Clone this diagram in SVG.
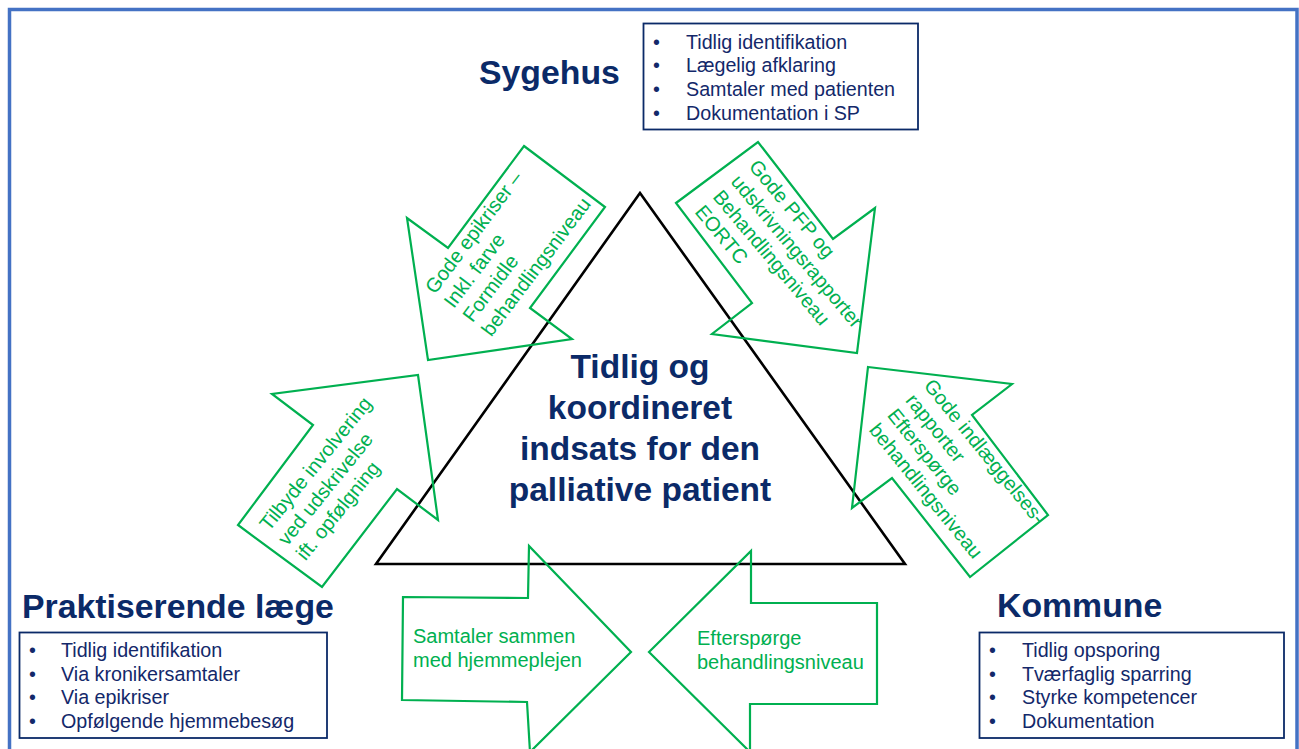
<svg xmlns="http://www.w3.org/2000/svg" width="1299" height="749" viewBox="0 0 1299 749">
<style>
.title{font-family:"Liberation Sans",Arial,sans-serif;font-weight:bold;font-size:33.8px;fill:#0B2A68}
.center{font-family:"Liberation Sans",Arial,sans-serif;font-weight:bold;font-size:33.5px;fill:#0B2A68}
.item{font-family:"Liberation Sans",Arial,sans-serif;font-size:19.7px;fill:#13286A}
.box{fill:#fff;stroke:#0B2A68;stroke-width:1.8}
.arrow{fill:none;stroke:#00B050;stroke-width:2.2;stroke-linejoin:miter}
.lbl{font-family:"Liberation Sans",Arial,sans-serif;font-size:20px;fill:#00B050}
</style>
<rect x="0" y="0" width="1299" height="749" fill="#fff"/>
<rect x="9.5" y="9.5" width="1287.5" height="800" fill="none" stroke="#4472C4" stroke-width="3.5"/>

<g id="triangle">
<polygon points="640,193 905,564 376,564" fill="none" stroke="#000" stroke-width="2.6"/>
<text class="center" text-anchor="middle"><tspan x="640" y="378">Tidlig og</tspan><tspan x="640" y="419">koordineret</tspan><tspan x="640" y="460">indsats for den</tspan><tspan x="640" y="501">palliative patient</tspan></text>
</g>

<g id="sygehus">
<text class="title" x="479" y="84">Sygehus</text>
<rect class="box" x="643.5" y="23.5" width="274.5" height="106"/>
<text class="item"><tspan x="653" y="48.5">•</tspan><tspan x="686" y="48.5">Tidlig identifikation</tspan><tspan x="653" y="72.2">•</tspan><tspan x="686" y="72.2">Lægelig afklaring</tspan><tspan x="653" y="95.8">•</tspan><tspan x="686" y="95.8">Samtaler med patienten</tspan><tspan x="653" y="119.5">•</tspan><tspan x="686" y="119.5">Dokumentation i SP</tspan></text>
</g>

<g id="praktiserende">
<text class="title" x="22" y="618">Praktiserende læge</text>
<rect class="box" x="19.5" y="632.5" width="307.5" height="105.5"/>
<text class="item"><tspan x="29" y="657">•</tspan><tspan x="61" y="657">Tidlig identifikation</tspan><tspan x="29" y="680.5">•</tspan><tspan x="61" y="680.5">Via kronikersamtaler</tspan><tspan x="29" y="704">•</tspan><tspan x="61" y="704">Via epikriser</tspan><tspan x="29" y="727.5">•</tspan><tspan x="61" y="727.5">Opfølgende hjemmebesøg</tspan></text>
</g>

<g id="kommune">
<text class="title" x="997" y="617">Kommune</text>
<rect class="box" x="979.5" y="632.5" width="304.5" height="105.5"/>
<text class="item"><tspan x="989" y="657">•</tspan><tspan x="1022" y="657">Tidlig opsporing</tspan><tspan x="989" y="680.5">•</tspan><tspan x="1022" y="680.5">Tværfaglig sparring</tspan><tspan x="989" y="704">•</tspan><tspan x="1022" y="704">Styrke kompetencer</tspan><tspan x="989" y="727.5">•</tspan><tspan x="1022" y="727.5">Dokumentation</tspan></text>
</g>

<g id="connectors">
<g id="arrow-sygehus-praktiserende">
<polygon class="arrow" points="524,146 605,207 530,308 572,339 428,360 407,218 448,248"/>
<text class="lbl" transform="translate(435,295) rotate(-53)"><tspan x="0" y="0">Gode epikriser –</tspan><tspan x="0" y="23.5">Inkl. farve</tspan><tspan x="0" y="47">Formidle</tspan><tspan x="0" y="70.5">behandlingsniveau</tspan></text>
</g>
<g id="arrow-sygehus-kommune">
<polygon class="arrow" points="676,203 758,142 833,239 875,208 857,353 712,334 752,303"/>
<text class="lbl" transform="translate(748,167) rotate(50)"><tspan x="0" y="0">Gode PFP og</tspan><tspan x="0" y="23.5">udskrivningsrapporter</tspan><tspan x="0" y="47">Behandlingsniveau</tspan><tspan x="0" y="70.5">EORTC</tspan></text>
</g>
<g id="arrow-praktiserende-sygehus">
<polygon class="arrow" points="418,375 438,520 397,489 322,587 238,525 313,425 272,394"/>
<text class="lbl" transform="translate(269,532) rotate(-51)"><tspan x="0" y="0">Tilbyde involvering</tspan><tspan x="0" y="23.5">ved udskrivelse</tspan><tspan x="0" y="47">ift. opfølgning</tspan></text>
</g>
<g id="arrow-kommune-sygehus">
<polygon class="arrow" points="868,367 1012,384 972,415 1048,515 970,577 892,478 852,508"/>
<text class="lbl" transform="translate(923,386) rotate(51)"><tspan x="0" y="0">Gode indlæggelses-</tspan><tspan x="0" y="23.5">rapporter</tspan><tspan x="0" y="47">Efterspørge</tspan><tspan x="0" y="70.5">behandlingsniveau</tspan></text>
</g>
<g id="arrow-praktiserende-kommune">
<polygon class="arrow" points="403,597 528,598 529,546 631,652 530,752 527,702 402,700"/>
<text class="lbl"><tspan x="413" y="643">Samtaler sammen</tspan><tspan x="413" y="667">med hjemmeplejen</tspan></text>
</g>
<g id="arrow-kommune-praktiserende">
<polygon class="arrow" points="649,652 751,551 751,603 877,603 877,704 750,704 750,752"/>
<text class="lbl"><tspan x="697" y="645">Efterspørge</tspan><tspan x="697" y="669">behandlingsniveau</tspan></text>
</g>
</g>
</svg>
